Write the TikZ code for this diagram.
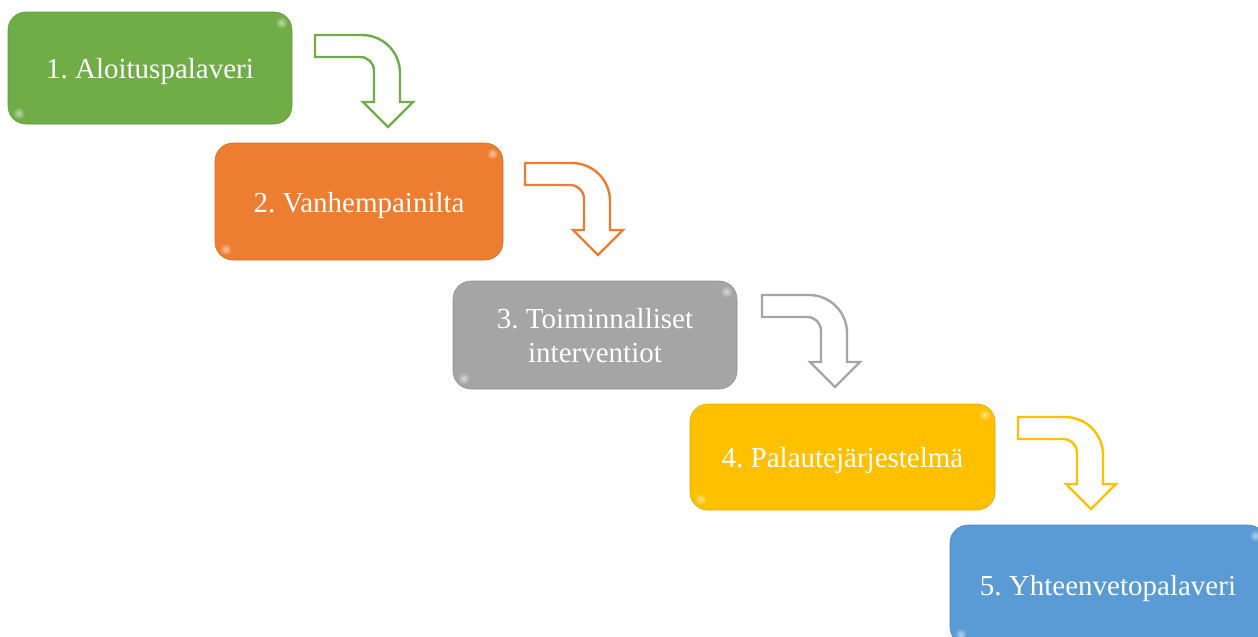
\documentclass[tikz,border=0pt]{standalone}
\usepackage{fontspec}
\setmainfont{Liberation Serif}
\usetikzlibrary{calc}
\frenchspacing
\definecolor{cgreen}{HTML}{70AD47}
\definecolor{corange}{HTML}{ED7D31}
\definecolor{cgray}{HTML}{A5A5A5}
\definecolor{cyellow}{HTML}{FFC000}
\definecolor{cblue}{HTML}{5B9BD5}
\tikzset{
  stepbox/.style={rounded corners=18pt, inner sep=0pt},
  steptext/.style={text=white, align=center, anchor=base, inner sep=0pt,
    font=\fontsize{29}{34}\selectfont},
  bentarrow/.style={line width=2.4pt, fill=white, line join=miter},
}
\newcommand{\glossbox}[6]{% name, color, cx, cy, w, h
  \node[stepbox, fill=#2, draw=#2!88!black, line width=0.6pt,
        minimum width=#5pt, minimum height=#6pt] (#1) at (#3,#4) {};
  \shade[inner color=white!55!#2, outer color=#2] ($(#1.north east)+(-11,11)$) circle (6pt);
  \shade[inner color=white!55!#2, outer color=#2] ($(#1.south west)+(11,-11)$) circle (6pt);
}
\newcommand{\bentarr}[4]{% name, color, x, y
  \begin{scope}[shift={(#3,#4)}]
    \coordinate (#1) at (0,0);
    \draw[bentarrow, draw=#2] (0,0) -- (47,0)
      .. controls (68,0) and (85,17) .. (85,38)
      -- (85,67) -- (98,67) -- (73,92) -- (48,67) -- (59,67) -- (59,36)
      .. controls (59,28) and (53,22) .. (45,22)
      -- (0,22) -- cycle;
  \end{scope}
}
\begin{document}
\begin{tikzpicture}[x=1pt,y=-1pt]
\useasboundingbox (0,0) rectangle (1258,637);
\clip (0,0) rectangle (1258,637);
\glossbox{b1}{cgreen}{150}{68}{284}{112}
\node[steptext] (t1) at (150,78) {1. Aloituspalaveri};
\glossbox{b2}{corange}{359}{201.5}{288}{117}
\node[steptext] (t2) at (359,212) {2. Vanhempainilta};
\glossbox{b3}{cgray}{595}{335}{284}{108}
\node[steptext] (t3) at (595,362) {3. Toiminnalliset\\interventiot};
\glossbox{b4}{cyellow}{842.5}{457}{305}{106}
\node[steptext] (t4) at (842.5,467) {4. Palautejärjestelmä};
\glossbox{b5}{cblue}{1108}{585}{316}{120}
\node[steptext] (t5) at (1108,595) {5. Yhteenvetopalaveri};
\bentarr{a1}{cgreen}{315}{35}
\bentarr{a2}{corange}{525}{163}
\bentarr{a3}{cgray}{762}{295}
\bentarr{a4}{cyellow}{1018}{417}
\end{tikzpicture}
\end{document}
